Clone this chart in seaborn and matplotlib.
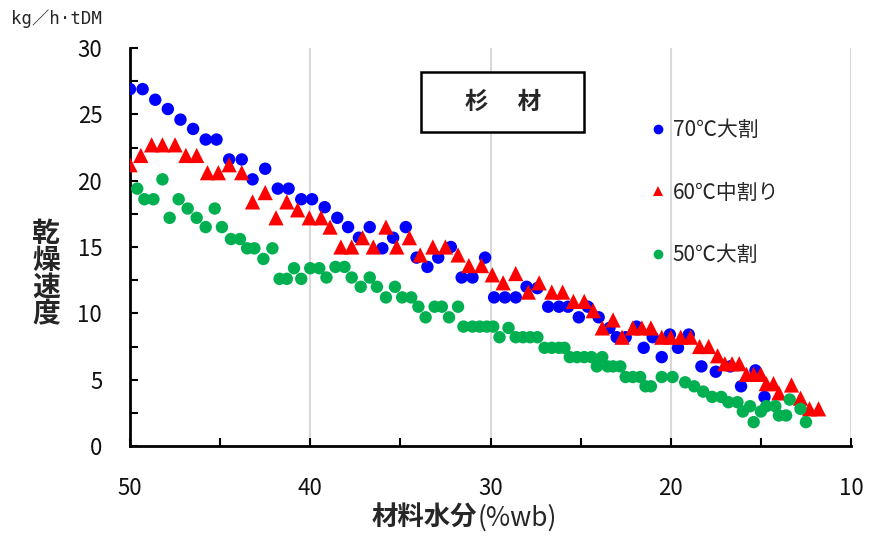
import numpy as np
import pandas as pd
import matplotlib
matplotlib.use("Agg")
import matplotlib.pyplot as plt
from matplotlib.patches import Rectangle
from matplotlib.ticker import MultipleLocator
import seaborn as sns

# ---------------- data ----------------
series_names = ["70℃大割", "60℃中割り", "50℃大割"]

x_70 = [50.0, 49.3, 48.6, 47.9, 47.2, 46.5, 45.8, 45.2, 44.5, 43.8, 43.2, 42.5, 41.8, 41.2,
        40.5, 39.9, 39.2, 38.5, 37.9, 37.3, 36.7, 36.0, 35.4, 34.7, 34.1, 33.5, 32.9, 32.2,
        31.6, 31.0, 30.3, 29.8, 29.2, 28.6, 28.0, 27.4, 26.8, 26.2, 25.7, 25.1, 24.6, 24.0,
        23.4, 23.0, 22.5, 21.9, 21.5, 21.0, 20.5, 20.05, 19.6, 19.0, 18.3, 17.5, 16.7, 16.1,
        15.3, 14.8]
y_70 = [26.9, 26.9, 26.1, 25.4, 24.6, 23.9, 23.1, 23.1, 21.6, 21.6, 20.1, 20.9, 19.4, 19.4,
        18.6, 18.6, 18.0, 17.2, 16.5, 15.7, 16.5, 14.9, 15.7, 16.5, 14.2, 13.5, 14.2, 15.0,
        12.7, 12.7, 14.2, 11.2, 11.2, 11.2, 12.0, 11.9, 10.5, 10.5, 10.5, 9.7, 10.5, 9.7,
        8.9, 8.2, 8.2, 9.0, 7.4, 8.2, 6.7, 8.4, 7.4, 8.4, 6.0, 5.6, 6.0, 4.5,
        5.7, 3.7]

x_60 = [50.0, 49.4, 48.8, 48.2, 47.5, 46.9, 46.3, 45.7, 45.1, 44.5, 43.8, 43.2, 42.5, 41.9,
        41.3, 40.7, 40.05, 39.4, 38.9, 38.3, 37.7, 37.1, 36.5, 35.8, 35.2, 34.5, 33.9, 33.2,
        32.5, 31.8, 31.2, 30.5, 29.9, 29.3, 28.6, 27.9, 27.3, 26.6, 26.0, 25.4, 24.8, 24.3,
        23.8, 23.2, 22.7, 22.1, 21.6, 21.1, 20.5, 20.0, 19.45, 18.9, 18.4, 17.9, 17.4, 17.0,
        16.6, 16.2, 15.8, 15.4, 15.0, 14.7, 14.3, 14.0, 13.3, 12.8, 12.3, 11.8]
y_60 = [21.2, 21.9, 22.7, 22.7, 22.7, 21.9, 21.9, 20.6, 20.6, 21.2, 20.6, 18.4, 19.1, 17.2,
        18.4, 17.8, 17.2, 17.2, 16.5, 15.0, 15.0, 15.7, 15.0, 16.5, 15.0, 15.7, 14.4, 15.0,
        15.0, 14.4, 13.6, 13.6, 12.9, 12.3, 13.0, 11.6, 12.3, 11.6, 11.6, 10.9, 10.9, 10.2,
        8.9, 9.5, 8.2, 8.9, 8.9, 8.9, 8.2, 8.2, 8.2, 8.2, 7.5, 7.5, 6.8, 6.2,
        6.2, 6.2, 5.4, 5.4, 5.4, 4.7, 4.7, 4.0, 4.6, 3.6, 2.8, 2.8]

x_50 = [49.6, 49.2, 48.7, 48.2, 47.8, 47.3, 46.8, 46.3, 45.8, 45.3, 44.9, 44.4, 43.9, 43.5,
        43.1, 42.6, 42.1, 41.7, 41.3, 40.9, 40.5, 40.0, 39.5, 39.1, 38.6, 38.1, 37.7, 37.2,
        36.7, 36.3, 35.8, 35.3, 34.9, 34.4, 34.0, 33.6, 33.1, 32.7, 32.3, 31.8, 31.5, 31.0,
        30.6, 30.2, 29.85, 29.5, 29.0, 28.6, 28.2, 27.8, 27.4, 27.0, 26.6, 26.2, 25.9, 25.6,
        25.2, 24.8, 24.4, 24.1, 23.8, 23.5, 23.2, 22.8, 22.5, 22.1, 21.7, 21.4, 21.1, 20.5,
        19.9, 19.2, 18.7, 18.2, 17.7, 17.2, 16.8, 16.3, 16.0, 15.6, 15.4, 15.0, 14.7, 14.2,
        14.0, 13.6, 13.4, 12.8, 12.5]
y_50 = [19.4, 18.6, 18.6, 20.1, 17.2, 18.6, 17.9, 17.2, 16.5, 17.9, 16.5, 15.6, 15.6, 14.9,
        14.9, 14.1, 14.9, 12.6, 12.6, 13.4, 12.6, 13.4, 13.4, 12.7, 13.5, 13.5, 12.7, 12.0,
        12.7, 12.0, 11.2, 12.0, 11.2, 11.2, 10.5, 9.7, 10.5, 10.5, 9.7, 10.5, 9.0, 9.0,
        9.0, 9.0, 9.0, 8.2, 8.9, 8.2, 8.2, 8.2, 8.2, 7.4, 7.4, 7.4, 7.4, 6.7,
        6.7, 6.7, 6.7, 6.0, 6.7, 6.0, 6.0, 6.0, 5.2, 5.2, 5.2, 4.5, 4.5, 5.2,
        5.2, 4.8, 4.5, 4.1, 3.7, 3.7, 3.3, 3.3, 2.6, 3.0, 1.8, 2.6, 3.0, 3.0,
        2.3, 2.3, 3.5, 2.8, 1.8]

x_ticks = [50, 40, 30, 20, 10]
y_ticks = [0, 5, 10, 15, 20, 25, 30]

colors = {"70℃大割": "#0000FF", "60℃中割り": "#FF0000", "50℃大割": "#00B050"}
markers = {"70℃大割": "o", "60℃中割り": "^", "50℃大割": "o"}
sizes = {"70℃大割": 80, "60℃中割り": 120, "50℃大割": 80}

df = pd.concat([
    pd.DataFrame({"x": x_70, "y": y_70, "series": series_names[0]}),
    pd.DataFrame({"x": x_60, "y": y_60, "series": series_names[1]}),
    pd.DataFrame({"x": x_50, "y": y_50, "series": series_names[2]}),
], ignore_index=True)

# ---------------- style ----------------
sns.set_theme(style="white")
plt.rcParams["font.family"] = ["Noto Sans CJK JP", "DejaVu Sans"]

fig = plt.figure(figsize=(8.7, 5.37), dpi=100)
ax = fig.add_axes([130 / 870, 1 - 446 / 537, (851 - 130) / 870, (446 - 48) / 537])

# grid lines (vertical only)
for gx in [40, 30, 20, 10]:
    ax.axvline(gx, color="#D9D9D9", lw=1.5, zorder=0)

sns.scatterplot(data=df, x="x", y="y", hue="series", style="series", size="series",
                palette=colors, markers=markers, sizes=sizes, linewidth=0,
                ax=ax, zorder=3)

ax.set_xlim(50, 10)
ax.set_ylim(0, 30)
ax.set_xticks(x_ticks)
ax.set_yticks(y_ticks)
ax.xaxis.set_minor_locator(MultipleLocator(5))
ax.yaxis.set_minor_locator(MultipleLocator(2.5))
ax.tick_params(axis="both", which="both", direction="in", color="black",
               width=1.5, length=6, labelsize=16, labelcolor="#111111")
ax.tick_params(axis="x", which="major", pad=22)
ax.tick_params(axis="y", which="major", pad=20)
ax.tick_params(axis="both", which="both", bottom=True, left=True)

for side in ["top", "right"]:
    ax.spines[side].set_visible(False)
for side in ["left", "bottom"]:
    ax.spines[side].set_color("black")
    ax.spines[side].set_linewidth(2)

ax.set_xlabel("")
ax.set_ylabel("")

# legend
handles, labels = ax.get_legend_handles_labels()
for h in handles:
    try:
        h.set_markersize(7)
    except Exception:
        pass
leg = ax.legend(handles, labels, loc="upper left",
                bbox_to_anchor=((650 - 130) / 721, (446 - 119) / 398),
                frameon=False, fontsize=15, labelspacing=1.95,
                handlelength=0.8, handletextpad=0.3, borderpad=0,
                borderaxespad=0)

# title box
box = Rectangle(((421 - 130) / 721, (446 - 132) / 398), 163 / 721, 60 / 398,
                transform=ax.transAxes, fill=True, facecolor="white",
                edgecolor="black", lw=1.8, zorder=4)
ax.add_patch(box)
ax.text((503 - 130) / 721, (446 - 102) / 398, "杉　 材", transform=ax.transAxes,
        ha="center", va="center", fontsize=17, fontweight="bold", zorder=5)

# y label (stacked vertical characters)
fig.text(46 / 870, 1 - 274 / 537, "乾\n燥\n速\n度", ha="center", va="center",
         fontsize=20, fontweight="bold", linespacing=0.95)

# x label
fig.text(477 / 870, 1 - 518 / 537, "材料水分", ha="right", va="center",
         fontsize=19, fontweight="bold")
fig.text(478 / 870, 1 - 518 / 537, "(%wb)", ha="left", va="center",
         fontsize=19)

# unit label
fig.text(11 / 870, 1 - 19 / 537, "kg／h·tDM", ha="left", va="center",
         fontsize=12.5, family=["DejaVu Sans Mono", "Noto Sans CJK JP"])

fig.savefig("out.png", dpi=100)
